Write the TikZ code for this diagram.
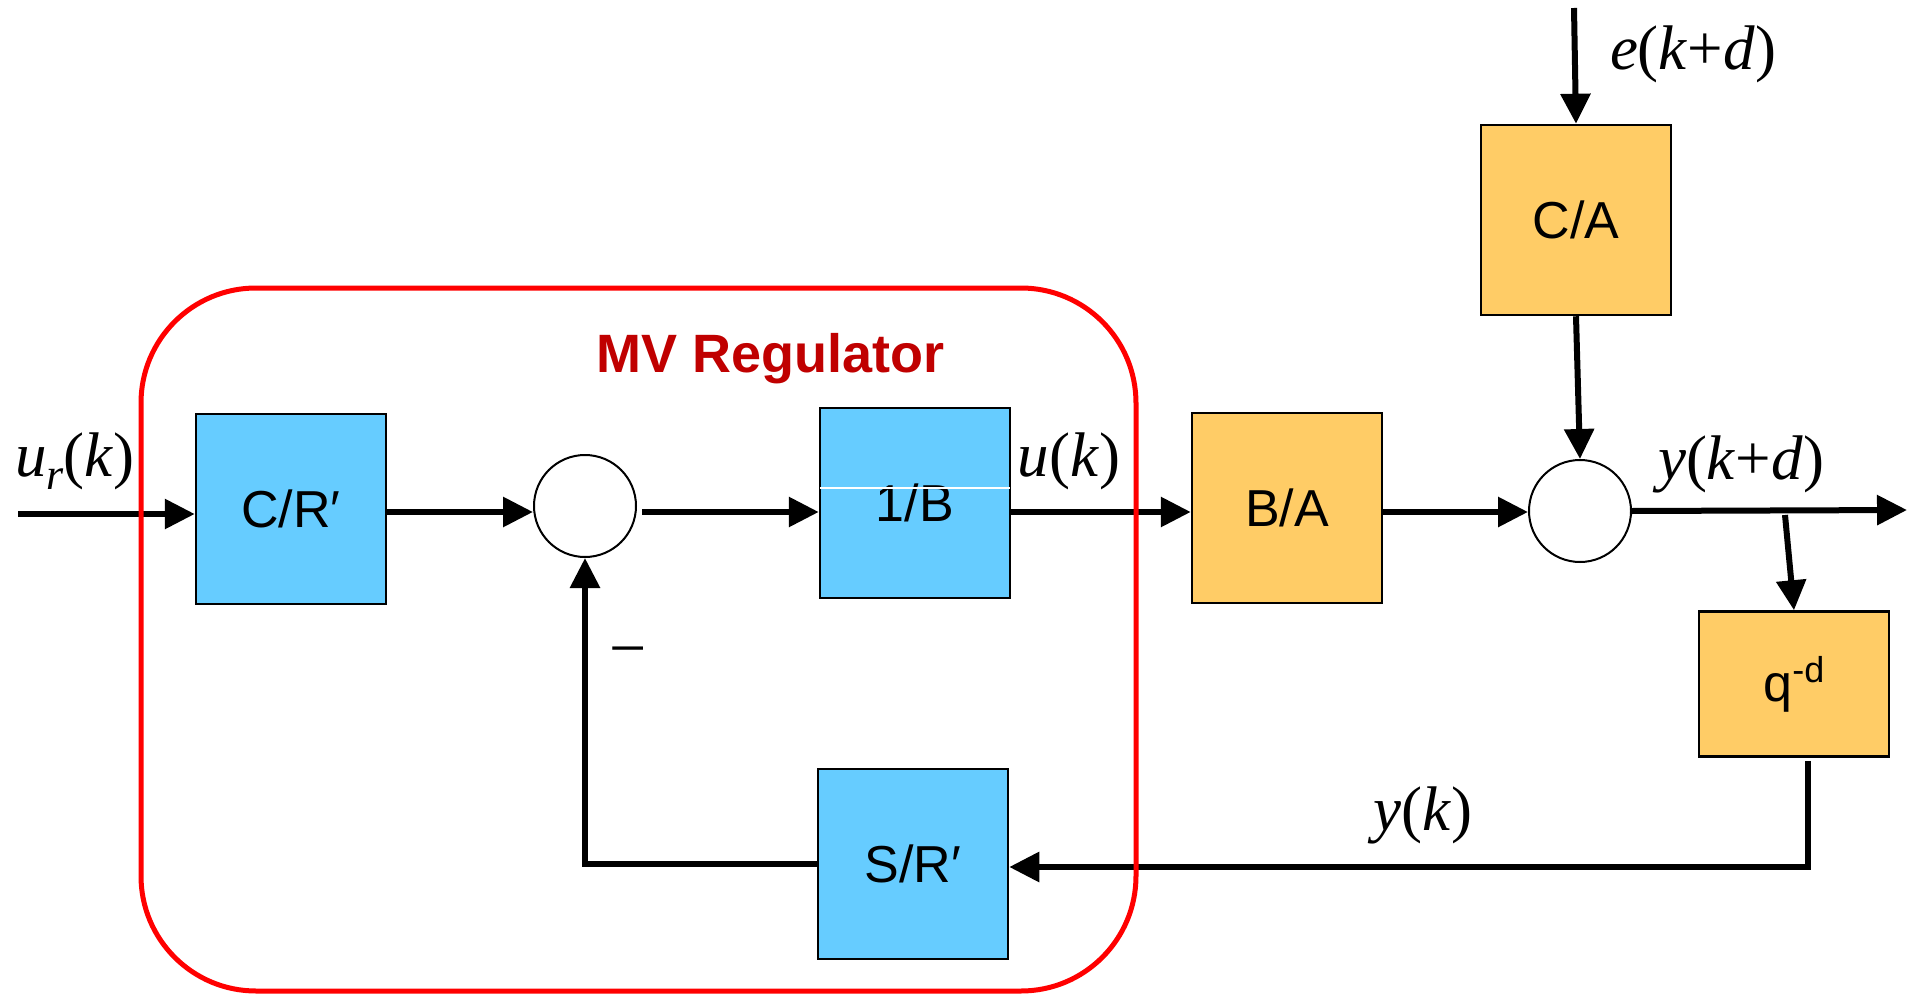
\documentclass[tikz,border=0pt]{standalone}
\usepackage{fontspec}
\setmainfont{Liberation Serif}
\setsansfont{Liberation Sans}
\usetikzlibrary{arrows.meta,calc}
\definecolor{blu}{HTML}{66CCFF}
\definecolor{org}{HTML}{FFCC66}
\definecolor{mvred}{HTML}{C00000}
\begin{document}
\begin{tikzpicture}[x=1pt,y=-1pt,
  blk/.style={draw=black, line width=2.5pt, minimum width=190pt, minimum height=190pt, inner sep=0pt, font=\sffamily\fontsize{52}{60}\selectfont},
  bb/.style={blk, fill=blu},
  ob/.style={blk, fill=org},
  sumc/.style={circle, draw=black, line width=2pt, minimum size=102pt, inner sep=0pt, fill=white},
  conn/.style={line width=6pt, -{Triangle[length=30pt,width=29pt]}},
  lbl/.style={font=\fontsize{63}{70}\selectfont, anchor=base, inner sep=0pt},
  title/.style={font=\sffamily\bfseries\fontsize{54}{60}\selectfont, text=mvred, anchor=base, inner sep=0pt},
  regbox/.style={draw=red, line width=5pt, rounded corners=115pt}
]
\useasboundingbox (0,0) rectangle (1912,995);
\fill[white] (0,0) rectangle (1912,995);

% blocks
\node[bb] (CR) at (291,509) {C/R′};
\node[sumc] (s1) at (585,506) {};
\node[bb] (B1) at (915,503) {1/B};
\draw[white, line width=1.5pt] ($(B1.west)+(1.5,-15)$) -- ($(B1.east)+(-1.5,-15)$);
\node[ob] (BA) at (1287,508) {B/A};
\node[sumc] (s2) at (1580,511) {};
\node[ob] (CA) at (1576,220) {C/A};
\node[ob, minimum height=145pt] (Q) at (1794,684) {q\raisebox{19pt}{\fontsize{36}{36}\selectfont -d}};
\node[bb] (SR) at (913,864) {S/R′};

% connectors
\coordinate (in) at (18,514);
\coordinate (ml) at (0,512);
\draw[conn] (in) -- (in -| CR.west);
\draw[conn] (CR.east |- ml) -- (s1.west |- ml);
\draw[conn] ([xshift=5pt]s1.east |- ml) -- (B1.west |- ml);
\draw[conn] (B1.east |- ml) -- (BA.west |- ml);
\draw[conn] (BA.east |- ml) -- (s2.west |- ml);
\coordinate (etop) at (1574,8);
\draw[conn] (etop) -- (CA.north);
\draw[conn] (CA.south) -- (s2.north);
\coordinate (yout) at (1907,510);
\draw[conn] (s2.east) -- (yout);
\coordinate (br) at (1785,515);
\draw[conn] (br) -- (Q.north);
\coordinate (qc) at (1808,867);
\draw[conn] ($(Q.south -| qc)+(0,3)$) -- (qc) -- (qc -| SR.east);
\draw[conn] (SR.west) -- (SR.west -| s1.south) -- (s1.south);

% regulator frame
\draw[regbox] (141,288) rectangle (1136,991);

% labels
\node[title] (mvt) at (771,372) {MV Regulator};
\node[lbl] (ur) at (75,476) {\textit{u}\raisebox{-0.22em}{\fontsize{44}{44}\selectfont\textit{r}}(\textit{k})};
\node[lbl] (uk) at (1069,476) {\textit{u}(\textit{k})};
\node[lbl] (ekd) at (1693,70) {\textit{e}(\textit{k}+\textit{d})};
\node[lbl] (ykd) at (1741,479) {\textit{y}(\textit{k}+\textit{d})};
\node[lbl] (yk) at (1423,830) {\textit{y}(\textit{k})};
\node[lbl, font=\fontsize{66}{66}\selectfont] (minus) at (628,670) {−};
\end{tikzpicture}
\end{document}
